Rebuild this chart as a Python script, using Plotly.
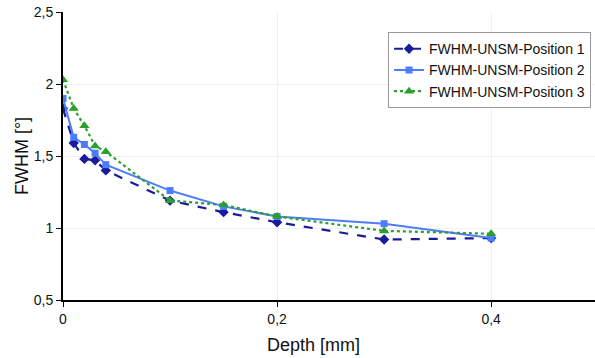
import plotly.graph_objects as go

depth = [0, 0.01, 0.02, 0.03, 0.04, 0.1, 0.15, 0.2, 0.3, 0.4]
pos1 = [1.83, 1.59, 1.48, 1.47, 1.40, 1.19, 1.11, 1.04, 0.92, 0.93]
pos2 = [1.90, 1.63, 1.58, 1.52, 1.44, 1.26, 1.15, 1.08, 1.03, 0.93]
pos3 = [2.03, 1.83, 1.71, 1.57, 1.53, 1.19, 1.16, 1.08, 0.98, 0.96]
names = ["FWHM-UNSM-Position 1", "FWHM-UNSM-Position 2", "FWHM-UNSM-Position 3"]
x_title = "Depth [mm]"
y_title = "FWHM [°]"

fig = go.Figure()
fig.add_trace(go.Scatter(x=depth, y=pos1, name=names[0], mode="lines+markers",
                         line=dict(color="#1a1a9c", width=2.2, dash="dash"),
                         marker=dict(symbol="diamond", size=8, color="#1a1a9c")))
fig.add_trace(go.Scatter(x=depth, y=pos2, name=names[1], mode="lines+markers",
                         line=dict(color="#4d7dff", width=2),
                         marker=dict(symbol="square", size=7, color="#4d7dff")))
fig.add_trace(go.Scatter(x=depth, y=pos3, name=names[2], mode="lines+markers",
                         line=dict(color="#2aa02a", width=2.2, dash="dot"),
                         marker=dict(symbol="triangle-up", size=9, color="#2aa02a")))

fig.update_layout(
    width=595, height=358,
    margin=dict(l=63, r=0, t=12, b=58),
    paper_bgcolor="white", plot_bgcolor="white",
    separators=", ",
    font=dict(family="Liberation Sans, Arial, sans-serif", color="#111111", size=14),
    showlegend=True,
    legend=dict(x=0.611, y=0.93, xanchor="left", yanchor="top",
                bordercolor="#999999", borderwidth=1, bgcolor="white",
                font=dict(size=14), tracegroupgap=0, itemwidth=30),
    annotations=[dict(text=x_title, xref="paper", yref="paper", x=0.47, y=-0.115,
                      xanchor="center", yanchor="top", showarrow=False,
                      font=dict(size=18))],
)
fig.update_xaxes(range=[0, 0.497], tickvals=[0, 0.2, 0.4], ticks="outside", ticklen=5,
                 showline=True, linecolor="black", linewidth=2, tickcolor="black",
                 showgrid=True, gridcolor="#f0f0f0", zeroline=False, automargin=False,
                 tickfont=dict(size=14))
fig.update_yaxes(range=[0.5, 2.5], tickvals=[0.5, 1, 1.5, 2, 2.5], ticks="outside", ticklen=5,
                 showline=True, linecolor="black", linewidth=2, tickcolor="black",
                 showgrid=True, gridcolor="#f0f0f0", zeroline=False, automargin=False,
                 tickfont=dict(size=14),
                 title=dict(text=y_title, font=dict(size=18), standoff=0))

fig.write_html("out.html", config={"displayModeBar": False},
               post_script="document.body.style.margin='0';")
